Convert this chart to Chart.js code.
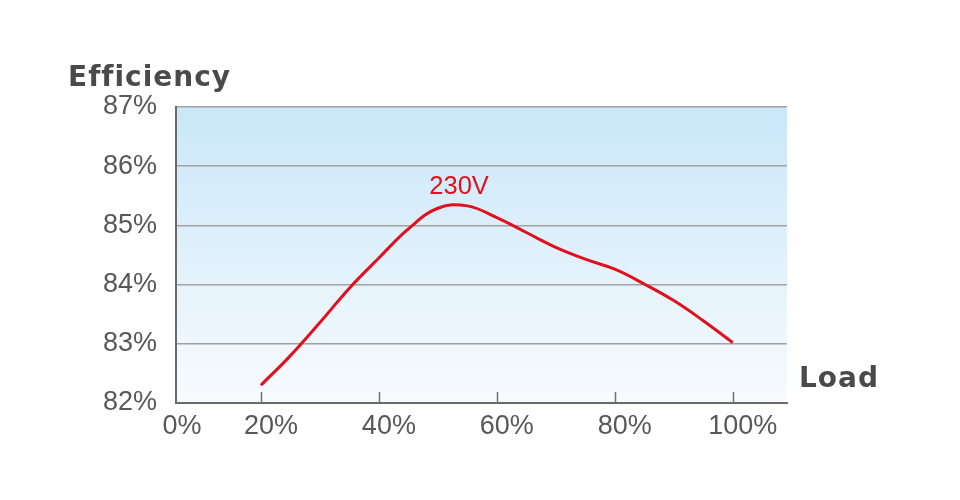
<!DOCTYPE html>
<html>
<head>
<meta charset="utf-8">
<script src="https://cdn.jsdelivr.net/npm/chart.js"></script>
<style>
  html, body { margin: 0; padding: 0; background: #ffffff; }
  #wrap { width: 960px; height: 500px; }
</style>
</head>
<body>
<div id="wrap"><canvas id="chart" width="960" height="500"></canvas></div>
<script>
// Data
const loads = [20, 25, 30, 35, 40, 45, 50, 55, 60, 65, 70, 75, 80, 85, 90, 95, 100];
const efficiency = [82.30, 82.80, 83.36, 83.94, 84.45, 84.94, 85.29, 85.33, 85.13, 84.88, 84.63, 84.43, 84.26, 84.01, 83.73, 83.39, 83.02];
const xTicks = [0, 20, 40, 60, 80, 100];
const xTickLabels = ['0%', '20%', '40%', '60%', '80%', '100%'];
const seriesName = '230V';
const yTitle = 'Efficiency';
const xTitle = 'Load';

const labelColor = '#585858';
const labelFont = '27px "Liberation Sans", Arial, sans-serif';
const titleFont = 'bold 28px "DejaVu Sans", Verdana, sans-serif';

// Background gradient, x labels, inner tick marks and titles
const decorPlugin = {
    id: 'decor',
    beforeDraw(chart) {
        const { ctx, chartArea: a } = chart;
        const g = ctx.createLinearGradient(0, a.top, 0, a.bottom);
        g.addColorStop(0, '#c9e7f8');
        g.addColorStop(1, '#f8fbfe');
        ctx.save();
        ctx.fillStyle = g;
        ctx.fillRect(a.left, a.top, a.right - a.left, a.bottom - a.top);
        ctx.restore();
    },
    afterDraw(chart) {
        const { ctx, chartArea: a } = chart;
        const xs = chart.scales.x;
        const ys = chart.scales.y;
        ctx.save();

        // tick marks pointing into the plot
        ctx.strokeStyle = '#707070';
        ctx.lineWidth = 1.5;
        xTicks.forEach(v => {
            if (v === 0) return;
            const px = Math.round(xs.getPixelForValue(v)) + 0.5;
            ctx.beginPath();
            ctx.moveTo(px, a.bottom - 11);
            ctx.lineTo(px, a.bottom);
            ctx.stroke();
        });

        // x labels
        ctx.fillStyle = labelColor;
        ctx.font = labelFont;
        ctx.textAlign = 'center';
        ctx.textBaseline = 'alphabetic';
        xTicks.forEach((v, i) => {
            const px = Math.max(xs.getPixelForValue(v) + 10, a.left + 6);
            ctx.fillText(xTickLabels[i], px, a.bottom + 31);
        });

        // series label
        ctx.fillStyle = '#e0101e';
        ctx.font = '25.5px "Liberation Sans", Arial, sans-serif';
        ctx.fillText(seriesName, xs.getPixelForValue(53.6), ys.getPixelForValue(85.53));

        // axis titles (letter spacing also keeps "ffi" from joining)
        ctx.fillStyle = '#4a4a4a';
        ctx.font = titleFont;
        ctx.letterSpacing = '1px';
        ctx.textAlign = 'left';
        ctx.fillText(yTitle, 68, 86);
        ctx.fillText(xTitle, 799, 387);
        ctx.restore();
    }
};

new Chart(document.getElementById('chart'), {
    type: 'line',
    data: {
        datasets: [{
            label: seriesName,
            data: loads.map((x, i) => ({ x: x, y: efficiency[i] })),
            borderColor: '#e0101e',
            borderWidth: 3,
            pointRadius: 0,
            tension: 0.4,
            fill: false
        }]
    },
    options: {
        responsive: false,
        animation: false,
        layout: { padding: { left: 0, right: 173, top: 107, bottom: 0 } },
        plugins: {
            legend: { display: false },
            tooltip: { enabled: false }
        },
        scales: {
            x: {
                type: 'linear',
                min: 5.6,
                max: 109.2,
                ticks: { display: false },
                grid: { display: false },
                border: { display: true, color: '#6a6a6a', width: 2 },
                afterFit(scale) { scale.height = 97; }
            },
            y: {
                min: 82,
                max: 87,
                ticks: {
                    stepSize: 1,
                    padding: 19,
                    color: labelColor,
                    font: { family: '"Liberation Sans", Arial, sans-serif', size: 27 },
                    callback: v => v + '%'
                },
                grid: {
                    drawTicks: false,
                    color: ctx => ctx.tick && ctx.tick.value === 82 ? 'rgba(0,0,0,0)' : '#a2a2a2',
                    lineWidth: 1.5
                },
                border: { display: true, color: '#6a6a6a', width: 2 },
                afterFit(scale) { scale.width = 176; }
            }
        }
    },
    plugins: [decorPlugin]
});
</script>
</body>
</html>
